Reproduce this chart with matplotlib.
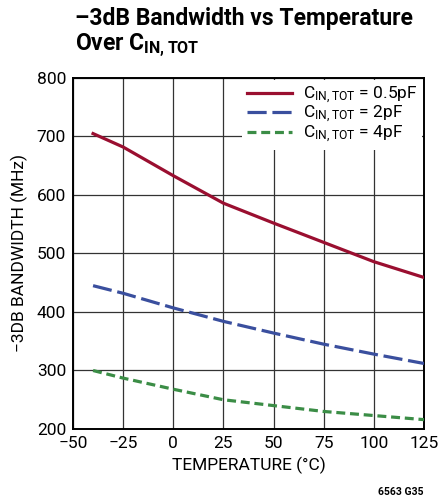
import matplotlib
matplotlib.use("Agg")
import matplotlib.pyplot as plt
from matplotlib import font_manager

names = {f.name for f in font_manager.fontManager.ttflist}
fam = ['Liberation Sans Narrow'] if 'Liberation Sans Narrow' in names else ['Roboto', 'DejaVu Sans']
plt.rcParams['font.family'] = fam + ['DejaVu Sans']
plt.rcParams['mathtext.default'] = 'regular'

temps = [-40, -25, 0, 25, 50, 75, 100, 125]
bw_05pF = [705, 682, 633, 586, 552, 519, 486, 459]
bw_2pF = [445, 432, 407, 384, 364, 345, 328, 312]
bw_4pF = [300, 287, 268, 250, 240, 230, 223, 216]
labels = ['C$_{IN,TOT}$ = 0.5pF', 'C$_{IN,TOT}$ = 2pF', 'C$_{IN,TOT}$ = 4pF']
xticks = [-50, -25, 0, 25, 50, 75, 100, 125]
yticks = [200, 300, 400, 500, 600, 700, 800]

fig = plt.figure(figsize=(4.39, 4.99), dpi=100)
ax = fig.add_axes([73/439, 1-429/499, (424-73)/439, (429-78)/499])

ax.plot(temps, bw_05pF, color='#9a0f30', lw=2.3, label=labels[0], zorder=3)
ax.plot(temps, bw_2pF, color='#3a4f9e', lw=2.3, dashes=(6, 1.8), label=labels[1], zorder=3)
ax.plot(temps, bw_4pF, color='#3b8d46', lw=2.3, dashes=(2.8, 1.5), label=labels[2], zorder=3)

ax.set_xlim(-50, 125)
ax.set_ylim(200, 800)
ax.set_xticks(xticks)
ax.set_yticks(yticks)
ax.set_xticklabels(['\u221250', '\u221225', '0', '25', '50', '75', '100', '125'])
ax.grid(True, color='#333333', lw=0.9)
ax.tick_params(length=0, labelsize=12.5, pad=5)
for s in ax.spines.values():
    s.set_linewidth(1.4)
ax.set_xlabel('TEMPERATURE (°C)', fontsize=12.5, labelpad=4)
ax.set_ylabel('\u22123DB BANDWIDTH (MHz)', fontsize=12.5, labelpad=6)

leg = ax.legend(loc='upper right', frameon=True, fontsize=12.5, handlelength=2.6,
                borderaxespad=0.1, labelspacing=-0.1, handletextpad=0.6, fancybox=False,
                borderpad=0.3)
leg.get_frame().set_edgecolor('none')
leg.get_frame().set_facecolor('white')
leg.get_frame().set_alpha(1)

fig.text(75/439, 1-7/499, '\u20133dB Bandwidth vs Temperature\nOver C$_{IN,TOT}$',
         fontsize=16.5, fontweight='bold', va='top', ha='left', linespacing=1.1)
fig.text(424/439, 1-492/499, '6563 G35', fontsize=7.5, fontweight='bold', ha='right', va='center')

fig.savefig('out.png', dpi=100)
